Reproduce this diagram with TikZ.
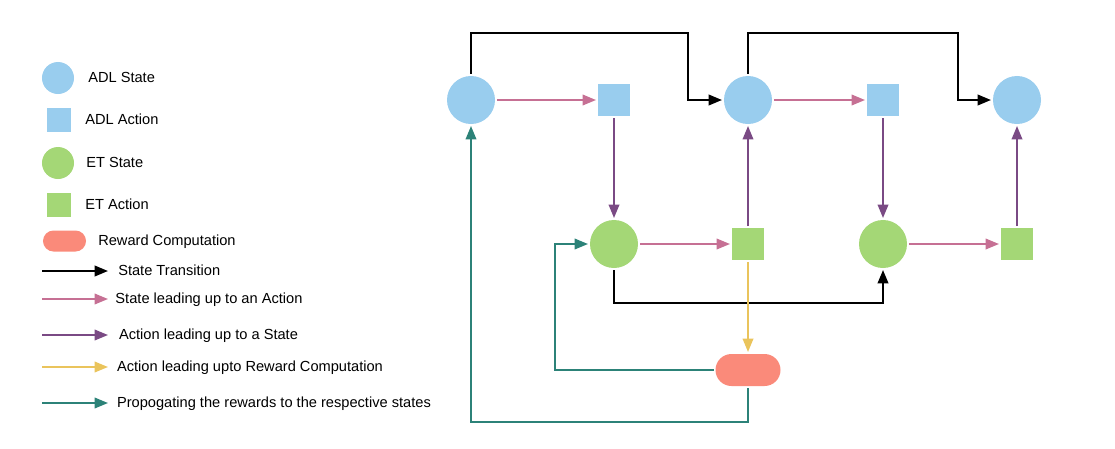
\documentclass[tikz,border=0pt]{standalone}
\usepackage{fontspec}
\setmainfont{Liberation Sans}
\usetikzlibrary{arrows.meta,positioning,shapes.misc}

\definecolor{adlblue}{RGB}{153,205,238}
\definecolor{etgreen}{RGB}{164,215,118}
\definecolor{rewred}{RGB}{250,138,122}
\definecolor{pinkarr}{RGB}{198,112,148}
\definecolor{purplearr}{RGB}{122,74,132}
\definecolor{yellowarr}{RGB}{234,196,92}
\definecolor{tealarr}{RGB}{44,130,120}

\begin{document}
\begin{tikzpicture}[
    x=0.025cm, y=-0.025cm,
    node distance=3mm,
    adlstate/.style={circle, fill=adlblue, minimum size=1.2cm, inner sep=0pt, outer sep=0.05cm},
    adlaction/.style={rectangle, fill=adlblue, minimum size=0.8cm, inner sep=0pt, outer sep=0.05cm},
    etstate/.style={adlstate, fill=etgreen},
    etaction/.style={adlaction, fill=etgreen},
    reward/.style={rounded rectangle, fill=rewred, minimum width=1.625cm, minimum height=0.8cm, inner sep=0pt, outer sep=0.05cm},
    lbl/.style={anchor=west, inner sep=0pt, text height=1.55ex, text depth=0.3ex, font=\fontsize{10.4}{12.5}\selectfont},
    arrow/.style={-{Triangle[length=9.5pt,width=7.5pt]}, line width=1.3pt},
    trans/.style={arrow, black, line width=1.5pt},
    toaction/.style={arrow, pinkarr},
    tostate/.style={arrow, purplearr},
    toreward/.style={arrow, yellowarr},
    feedback/.style={arrow, tealarr}
]
\useasboundingbox (0,0) rectangle (1115,448);

% legend
\node[adlstate, minimum size=0.8cm] (lgadl) at (58,78) {};
\node[lbl, right=0.3cm of lgadl] {ADL State};
\node[adlaction, minimum size=0.6cm] (lgadlact) at (59,120) {};
\node[lbl, right=0.3cm of lgadlact] {ADL Action};
\node[etstate, minimum size=0.8cm] (lget) at (58,163) {};
\node[lbl, right=0.25cm of lget] {ET State};
\node[etaction, minimum size=0.6cm] (lgetact) at (59,205) {};
\node[lbl, right=0.3cm of lgetact] {ET Action};
\node[reward, minimum width=1.075cm, minimum height=0.525cm] (lgrew) at (64.5,241) {};
\node[lbl, right=0.25cm of lgrew] {Reward Computation};

\coordinate (lgt1) at (42,271);  \coordinate (lgt2) at (108,271);
\coordinate (lga1) at (42,299);  \coordinate (lga2) at (108,299);
\coordinate (lgs1) at (42,335);  \coordinate (lgs2) at (108,335);
\coordinate (lgr1) at (42,367);  \coordinate (lgr2) at (108,367);
\coordinate (lgf1) at (42,403);  \coordinate (lgf2) at (108,403);
\draw[trans] (lgt1) -- (lgt2);
\draw[toaction] (lga1) -- (lga2);
\draw[tostate] (lgs1) -- (lgs2);
\draw[toreward] (lgr1) -- (lgr2);
\draw[feedback] (lgf1) -- (lgf2);
\node[lbl, right=0.25cm of lgt2] {State Transition};
\node[lbl, right=0.18cm of lga2] {State leading up to an Action};
\node[lbl, right=0.27cm of lgs2] {Action leading up to a State};
\node[lbl, right=0.22cm of lgr2] {Action leading upto Reward Computation};
\node[lbl, right=0.22cm of lgf2] {Propogating the rewards to the respective states};

% diagram
\node[adlstate] (adl1) at (471,100) {};
\node[adlaction] (adlact1) at (614,100) {};
\node[adlstate] (adl2) at (748,100) {};
\node[adlaction] (adlact2) at (883,100) {};
\node[adlstate] (adl3) at (1017,100) {};
\node[etstate] (et1) at (614,244) {};
\node[etaction] (etact1) at (748,244) {};
\node[etstate] (et2) at (883,244) {};
\node[etaction] (etact2) at (1017,244) {};
\node[reward] (rew) at (748,370) {};

\coordinate (bend1) at (688,33);
\coordinate (bend2) at (958,33);
\coordinate (bend3) at (883,303);
\coordinate (back1) at (555,244);
\coordinate (back2) at (471,422);

\draw[trans] (adl1.north) |- (bend1) |- (adl2.west);
\draw[trans] (adl2.north) |- (bend2) |- (adl3.west);
\draw[trans] (et1.south) |- (bend3) -- (et2.south);

\draw[toaction] (adl1) -- (adlact1);
\draw[toaction] (adl2) -- (adlact2);
\draw[toaction] (et1) -- (etact1);
\draw[toaction] (et2) -- (etact2);

\draw[tostate] (adlact1) -- (et1);
\draw[tostate] (etact1) -- (adl2);
\draw[tostate] (adlact2) -- (et2);
\draw[tostate] (etact2) -- (adl3);

\draw[toreward] (etact1) -- (rew);

\draw[feedback] (rew.west) -| (back1) -- (et1.west);
\draw[feedback] (rew.south) |- (back2) -- (adl1.south);
\end{tikzpicture}
\end{document}
